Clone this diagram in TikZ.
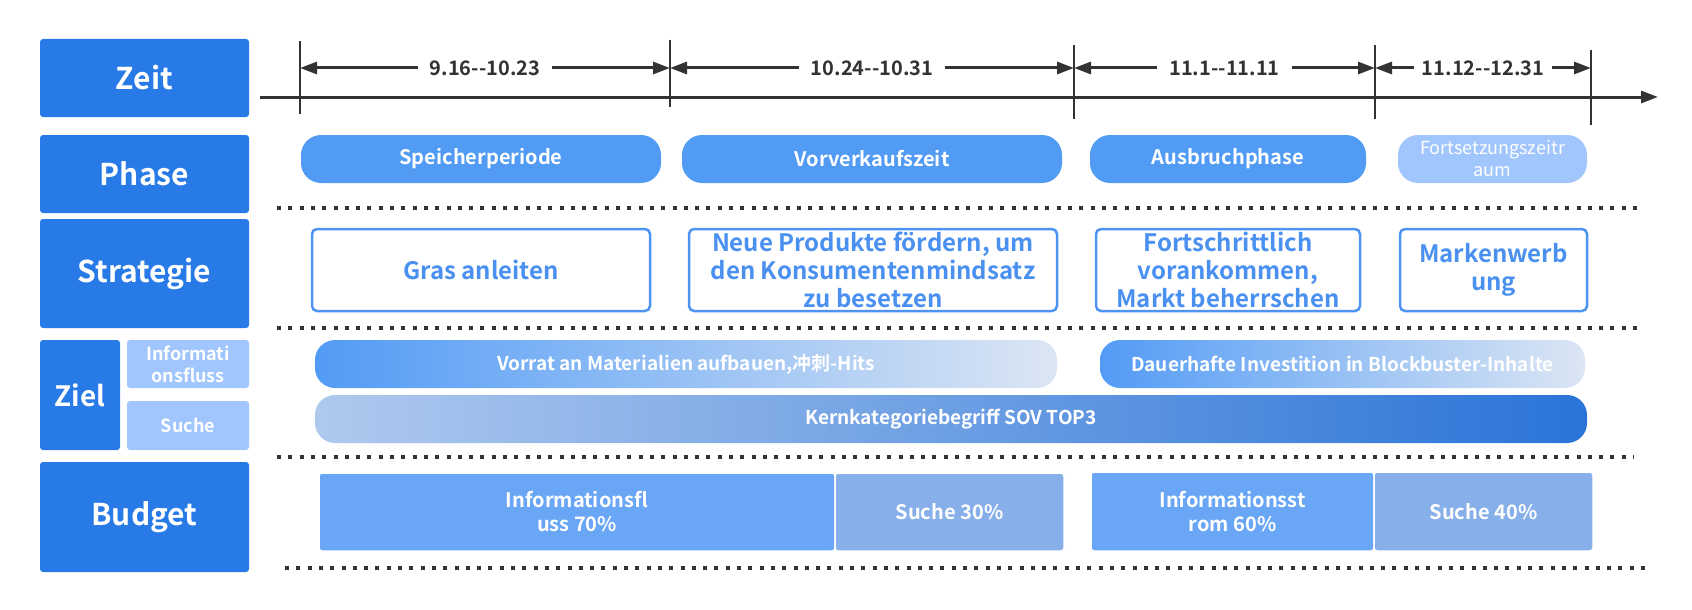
\documentclass[tikz,border=0pt]{standalone}
\usepackage{fontspec}
\setmainfont{Noto Sans CJK SC}[BoldFont={* Bold}]
\usetikzlibrary{arrows.meta}

\definecolor{headblue}{RGB}{40,122,230}
\definecolor{pillblue}{RGB}{82,155,245}
\definecolor{paleblue}{RGB}{160,198,253}
\definecolor{lineblue}{RGB}{77,148,242}
\definecolor{textblue}{RGB}{74,144,240}
\definecolor{infoblue}{RGB}{105,166,246}
\definecolor{searchblue}{RGB}{135,175,234}
\definecolor{darkgrey}{RGB}{51,51,51}
\definecolor{fadeblue}{RGB}{220,230,244}
\definecolor{softblue}{RGB}{175,201,238}
\definecolor{deepblue}{RGB}{42,116,216}

\tikzset{>={Triangle[length=17pt,width=12pt]}}
\tikzset{
  headbox/.style={fill=headblue, text=white, rounded corners=3pt, inner sep=0pt,
    font=\fontsize{30}{34}\selectfont\bfseries},
  subbox/.style={fill=paleblue, text=white, rounded corners=3pt, inner sep=0pt, align=center,
    font=\fontsize{18}{22}\selectfont\bfseries},
  phasepill/.style={fill=pillblue, text=white, rounded corners=20pt, inner sep=0pt,
    minimum height=48pt, font=\fontsize{20}{24}\selectfont\bfseries},
  stratbox/.style={draw=lineblue, line width=2.5pt, fill=white, text=textblue, rounded corners=5pt,
    inner sep=0pt, minimum height=82pt, align=center, font=\fontsize{24}{28}\selectfont\bfseries},
  goalbar/.style={rounded corners=20pt, text=white, inner sep=0pt, minimum height=48pt,
    font=\fontsize{19}{23}\selectfont\bfseries},
  budgetbox/.style={draw=white, line width=1.5pt, rounded corners=3pt, text=white, inner sep=0pt,
    align=center, font=\fontsize{20}{24}\selectfont\bfseries},
  dotline/.style={darkgrey, line width=4pt, dash pattern=on 4pt off 7.3pt},
  timeline/.style={darkgrey, line width=3pt},
  datelabel/.style={fill=white, text=darkgrey, inner xsep=12pt, inner ysep=2pt,
    font=\fontsize{20}{24}\selectfont\bfseries}
}

\begin{document}
\begin{tikzpicture}[x=1pt,y=-1pt]
\useasboundingbox (0,0) rectangle (1692,610);

% Row headers
\node[headbox, minimum width=209pt, minimum height=78pt] (zeit) at (144.5,78) {Zeit};
\node[headbox, minimum width=209pt, minimum height=78pt] (phase) at (144.5,174) {Phase};
\node[headbox, minimum width=209pt, minimum height=109pt] (strategie) at (144.5,273.5) {Strategie};
\node[headbox, minimum width=80pt, minimum height=110pt, font=\fontsize{28}{32}\selectfont\bfseries] (ziel) at (80,395) {Ziel};
\node[subbox, minimum width=122pt, minimum height=48pt] (zielinfo) at (188,364) {Informati\\onsfluss};
\node[subbox, minimum width=122pt, minimum height=49pt] (zielsuche) at (188,425.5) {Suche};
\node[headbox, minimum width=209pt, minimum height=110pt] (budget) at (144.5,517) {Budget};

% Time axis and ticks
\coordinate (ax0) at (260,97);
\coordinate (ax1) at (1658,97);
\draw[timeline, ->] (ax0) -- (ax1);
\coordinate (t1a) at (300,41);  \coordinate (t1b) at (300,114);
\coordinate (t2a) at (670,40);  \coordinate (t2b) at (670,107);
\coordinate (t3a) at (1074,45); \coordinate (t3b) at (1074,119);
\coordinate (t4a) at (1375,45); \coordinate (t4b) at (1375,119);
\coordinate (t5a) at (1591,50); \coordinate (t5b) at (1591,125);
\foreach \t in {t1,t2,t3,t4,t5}
  \draw[timeline, line width=2.5pt] (\t a) -- (\t b);

% Date ranges
\coordinate (d1) at (300,68);
\coordinate (d2) at (670,68);
\coordinate (d3) at (1074,68);
\coordinate (d4) at (1375,68);
\coordinate (d5) at (1591,68);
\draw[timeline, <->] (d1) -- node[datelabel] {9.16-{}-10.23} (d2);
\draw[timeline, <->] (d2) -- node[datelabel] {10.24-{}-10.31} (d3);
\draw[timeline, <->] (d3) -- node[datelabel] {11.1-{}-11.11} (d4);
\draw[timeline, <->] (d4) -- node[datelabel, inner xsep=8pt] {11.12-{}-12.31} (d5);

% Phases
\node[phasepill, minimum width=360pt] (speicher) at (481,159) {Speicherperiode};
\node[phasepill, minimum width=380pt] (vorverkauf) at (872,159) {Vorverkaufszeit};
\node[phasepill, minimum width=276pt] (ausbruch) at (1228,159) {Ausbruchphase};
\node[phasepill, minimum width=189pt, fill=paleblue, align=center,
  font=\fontsize{18}{22}\selectfont] (fortsetzung) at (1492.5,159) {Fortsetzungszeitr\\aum};

\draw[dotline] (277,208) -- (1638,208);

% Strategies
\node[stratbox, minimum width=338pt] (gras) at (481,270) {Gras anleiten};
\node[stratbox, minimum width=368pt] (neue) at (873,270) {Neue Produkte fördern, um\\den Konsumentenmindsatz\\zu besetzen};
\node[stratbox, minimum width=264pt] (fortschritt) at (1228,270) {Fortschrittlich\\vorankommen,\\Markt beherrschen};
\node[stratbox, minimum width=187pt] (marke) at (1493.5,270) {Markenwerb\\ung};

\draw[dotline] (277,328) -- (1638,328);

% Goals
\node[goalbar, minimum width=742pt, left color=pillblue, right color=fadeblue]
  (vorrat) at (686,364) {Vorrat an Materialien aufbauen,冲刺-Hits};
\node[goalbar, minimum width=485pt, left color=pillblue, right color=fadeblue]
  (dauerhaft) at (1342.5,364) {Dauerhafte Investition in Blockbuster-Inhalte};
\node[goalbar, minimum width=1272pt, left color=softblue, right color=deepblue]
  (kern) at (951,419) {Kernkategoriebegriff SOV TOP3};

\draw[dotline] (277,457) -- (1634,457);

% Budget
\node[budgetbox, fill=infoblue, minimum width=516pt, minimum height=78pt] (binfoa) at (577,512) {Informationsfl\\uss 70\%};
\node[budgetbox, fill=searchblue, minimum width=229pt, minimum height=78pt] (bsuchea) at (949.5,512) {Suche 30\%};
\node[budgetbox, fill=infoblue, minimum width=283pt, minimum height=79pt] (binfob) at (1232.5,511.5) {Informationsst\\rom 60\%};
\node[budgetbox, fill=searchblue, minimum width=219pt, minimum height=79pt] (bsucheb) at (1483.5,511.5) {Suche 40\%};

\draw[dotline] (285,568) -- (1645,568);

\end{tikzpicture}
\end{document}
